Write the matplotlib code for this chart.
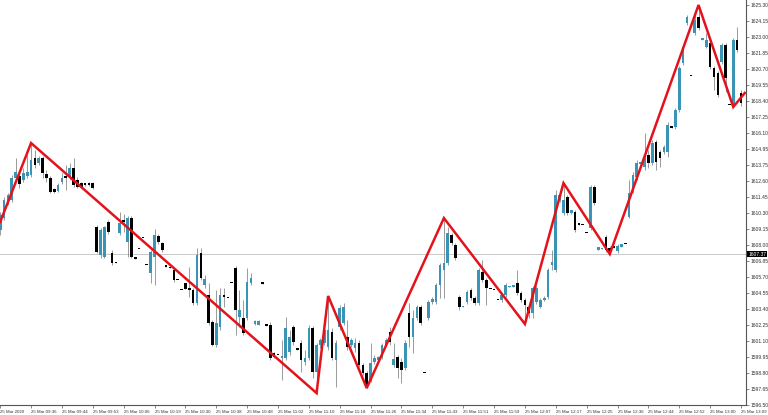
import matplotlib.pyplot as plt
import numpy as np

# === Candle data (1 min bars, 25 Mar 2020) ===
opens = [1609.10, 1609.96, 1611.12, 1611.26, 1612.84, 1612.99, 1612.70, 1612.99, 1613.06, 1614.28,
         1613.92, 1614.28, 1613.13, 1612.84, 1612.05, 1611.91, 1612.56, 1612.99, 1612.92, 1613.56,
         1612.70, 1612.48, 1612.48, 1612.48, 1612.48, 1609.32, 1607.30, 1607.16, 1609.68, 1607.44,
         1606.80, 1608.88, 1609.82, 1608.24, 1609.96, 1607.16, 1607.73, 1608.52, 1606.58, 1606.00,
         1607.16, 1608.67, 1608.16, 1606.58, 1606.44, 1606.22, 1605.50, 1604.78, 1605.28, 1604.92,
         1604.78, 1603.84, 1607.44, 1605.14, 1604.42, 1602.48, 1600.82, 1602.12, 1604.42, 1604.20,
         1605.28, 1606.36, 1602.84, 1602.76, 1602.76, 1605.28, 1602.33, 1602.26, 1605.36, 1602.30,
         1602.26, 1600.24, 1600.10, 1599.88, 1599.88, 1600.32, 1602.12, 1600.60, 1600.96, 1599.60,
         1599.88, 1602.04, 1598.88, 1600.82, 1600.96, 1600.68, 1601.76, 1599.74, 1602.12, 1602.40,
         1601.40, 1600.82, 1600.60, 1600.96, 1599.38, 1598.80, 1598.30, 1599.60, 1599.74, 1599.96,
         1600.82, 1601.76, 1599.38, 1599.96, 1599.60, 1599.16, 1603.12, 1601.40, 1602.76, 1603.56,
         1598.80, 1602.76, 1603.92, 1603.92, 1605.14, 1606.22, 1606.72, 1608.74, 1608.02, 1604.28,
         1603.56, 1603.92, 1604.78, 1604.20, 1603.84, 1606.08, 1605.50, 1604.85, 1604.78, 1604.06,
         1604.06, 1604.42, 1605.00, 1605.00, 1605.28, 1604.56, 1604.06, 1603.56, 1603.12, 1603.92,
         1603.56, 1604.06, 1604.28, 1606.58, 1606.22, 1611.26, 1610.32, 1611.48, 1610.32, 1610.40,
         1609.60, 1609.46, 1608.88, 1609.24, 1612.20, 1607.66, 1607.73, 1608.60, 1607.80, 1607.95,
         1607.59, 1607.88, 1608.09, 1610.04, 1612.12, 1612.92, 1613.85, 1613.64, 1614.50, 1613.92,
         1615.44, 1614.72, 1614.72, 1614.72, 1616.59, 1616.52, 1617.74, 1621.12, 1624.00, 1620.19,
         1623.28, 1624.44, 1622.78, 1622.28, 1622.56, 1620.76, 1620.40, 1621.20, 1622.42, 1618.10,
         1618.10, 1622.78, 1618.96]
highs = [1610.40, 1611.48, 1611.76, 1613.06, 1614.28, 1613.28, 1613.56, 1614.50, 1615.36, 1614.86,
         1614.43, 1614.43, 1613.42, 1612.99, 1612.12, 1612.48, 1613.20, 1613.78, 1613.92, 1614.28,
         1612.92, 1612.56, 1612.48, 1612.56, 1612.56, 1609.46, 1609.24, 1609.39, 1609.82, 1607.66,
         1606.80, 1610.40, 1610.25, 1610.11, 1610.11, 1607.16, 1607.73, 1608.52, 1606.58, 1607.66,
         1609.17, 1608.81, 1608.24, 1606.58, 1606.44, 1606.36, 1605.50, 1604.78, 1605.28, 1606.44,
         1604.92, 1607.80, 1607.80, 1605.86, 1605.28, 1602.62, 1604.78, 1604.92, 1604.92, 1604.20,
         1605.28, 1606.51, 1604.78, 1604.06, 1606.36, 1606.00, 1602.62, 1602.62, 1605.36, 1602.30,
         1602.48, 1600.32, 1600.10, 1601.18, 1602.84, 1601.90, 1602.26, 1600.60, 1601.18, 1600.46,
         1602.26, 1602.19, 1600.96, 1601.32, 1602.04, 1604.35, 1602.04, 1601.18, 1603.70, 1603.84,
         1602.62, 1601.32, 1601.32, 1601.18, 1599.52, 1598.95, 1600.96, 1600.10, 1600.03, 1600.96,
         1601.32, 1602.12, 1600.96, 1600.10, 1599.88, 1601.18, 1603.84, 1603.34, 1603.70, 1603.70,
         1598.80, 1604.06, 1604.28, 1605.28, 1606.72, 1609.96, 1609.32, 1608.88, 1608.16, 1604.42,
         1603.63, 1604.78, 1604.92, 1604.35, 1606.36, 1606.94, 1605.64, 1604.85, 1604.78, 1604.06,
         1604.56, 1605.28, 1605.07, 1605.14, 1606.22, 1604.71, 1604.20, 1603.70, 1605.07, 1605.07,
         1604.20, 1604.35, 1606.36, 1607.66, 1611.98, 1611.62, 1612.48, 1611.62, 1610.54, 1610.54,
         1609.60, 1609.46, 1608.88, 1612.34, 1612.34, 1607.88, 1607.80, 1608.74, 1607.95, 1607.95,
         1608.09, 1608.09, 1608.09, 1612.70, 1613.28, 1614.14, 1614.00, 1616.08, 1614.86, 1615.58,
         1615.58, 1614.86, 1615.22, 1616.88, 1616.59, 1617.88, 1620.91, 1622.42, 1624.58, 1620.19,
         1624.58, 1625.30, 1622.92, 1623.28, 1622.71, 1620.91, 1620.55, 1622.56, 1622.56, 1618.10,
         1622.92, 1623.72, 1619.18]
lows = [1608.74, 1609.82, 1610.90, 1611.12, 1612.70, 1612.12, 1612.56, 1612.84, 1612.92, 1613.56,
        1613.78, 1612.84, 1612.56, 1611.76, 1611.76, 1611.84, 1612.41, 1611.98, 1612.70, 1612.20,
        1612.12, 1612.12, 1612.27, 1612.27, 1612.05, 1607.44, 1607.08, 1607.08, 1608.81, 1606.58,
        1606.72, 1608.74, 1608.96, 1607.16, 1607.08, 1607.01, 1607.73, 1608.52, 1606.58, 1605.28,
        1605.14, 1608.09, 1607.52, 1606.44, 1606.36, 1605.36, 1605.50, 1604.78, 1604.85, 1604.28,
        1603.70, 1603.70, 1605.50, 1604.92, 1602.26, 1600.75, 1600.68, 1601.90, 1603.56, 1604.20,
        1605.28, 1601.54, 1602.12, 1601.54, 1602.62, 1605.14, 1602.26, 1602.26, 1605.21, 1602.20,
        1599.74, 1599.88, 1600.10, 1598.30, 1599.74, 1600.10, 1600.82, 1600.46, 1598.88, 1599.38,
        1599.74, 1598.44, 1597.36, 1600.60, 1600.82, 1600.46, 1599.74, 1597.80, 1601.90, 1602.26,
        1600.46, 1600.68, 1600.32, 1599.24, 1598.66, 1597.72, 1598.16, 1599.45, 1599.74, 1599.81,
        1600.75, 1600.82, 1599.24, 1598.44, 1598.08, 1599.02, 1600.68, 1600.24, 1602.62, 1602.26,
        1598.80, 1602.62, 1603.77, 1603.77, 1604.20, 1604.20, 1606.58, 1608.02, 1606.94, 1603.34,
        1603.56, 1603.77, 1604.06, 1603.70, 1603.70, 1605.36, 1603.70, 1604.85, 1604.78, 1604.06,
        1603.92, 1604.28, 1605.00, 1605.00, 1604.42, 1603.92, 1602.33, 1602.76, 1602.76, 1603.77,
        1603.48, 1603.99, 1604.13, 1606.22, 1606.08, 1611.12, 1610.18, 1610.18, 1610.25, 1608.96,
        1609.46, 1609.46, 1608.88, 1609.10, 1610.90, 1607.66, 1607.73, 1607.52, 1607.37, 1607.80,
        1607.44, 1607.88, 1608.09, 1609.96, 1611.76, 1612.70, 1613.85, 1613.42, 1613.56, 1613.78,
        1613.42, 1613.64, 1614.57, 1614.36, 1616.44, 1616.37, 1617.60, 1620.98, 1623.86, 1620.19,
        1623.14, 1623.50, 1622.78, 1622.20, 1620.69, 1619.18, 1618.68, 1621.05, 1619.04, 1618.10,
        1617.96, 1621.92, 1618.03]
closes = [1610.18, 1611.26, 1611.62, 1612.84, 1613.28, 1612.41, 1613.20, 1613.28, 1614.14, 1613.78,
          1614.28, 1613.20, 1612.84, 1611.84, 1611.84, 1612.34, 1612.84, 1612.84, 1613.56, 1612.34,
          1612.20, 1612.20, 1612.34, 1612.34, 1612.12, 1607.52, 1609.10, 1609.32, 1608.96, 1606.72,
          1606.72, 1609.60, 1609.68, 1609.96, 1607.16, 1607.01, 1607.73, 1608.52, 1606.58, 1607.52,
          1608.74, 1608.24, 1607.66, 1606.44, 1606.36, 1605.50, 1605.50, 1604.78, 1604.85, 1604.78,
          1603.84, 1607.30, 1605.64, 1605.57, 1602.40, 1600.82, 1602.40, 1604.42, 1604.28, 1604.20,
          1605.28, 1603.34, 1603.34, 1601.68, 1605.36, 1605.64, 1602.55, 1602.55, 1605.21, 1602.20,
          1599.88, 1599.96, 1600.10, 1600.03, 1602.04, 1601.40, 1601.04, 1600.46, 1599.74, 1599.88,
          1602.04, 1598.88, 1600.82, 1601.18, 1601.90, 1601.90, 1599.88, 1600.96, 1603.48, 1603.56,
          1600.68, 1601.18, 1600.96, 1599.38, 1598.80, 1597.94, 1599.52, 1599.88, 1599.96, 1600.82,
          1601.18, 1601.04, 1599.81, 1599.16, 1599.02, 1600.96, 1601.40, 1602.76, 1603.56, 1602.40,
          1598.80, 1603.92, 1604.13, 1605.14, 1606.58, 1606.72, 1608.88, 1608.16, 1607.08, 1603.56,
          1603.63, 1604.64, 1604.20, 1603.84, 1606.22, 1605.50, 1604.92, 1604.85, 1604.78, 1604.06,
          1604.42, 1605.14, 1605.07, 1605.14, 1604.56, 1604.06, 1603.70, 1603.12, 1604.92, 1604.92,
          1604.06, 1604.20, 1606.22, 1606.80, 1611.62, 1611.62, 1611.26, 1610.32, 1610.54, 1609.10,
          1609.46, 1609.46, 1608.88, 1612.20, 1611.04, 1607.88, 1607.80, 1607.66, 1607.44, 1607.80,
          1607.95, 1608.09, 1608.09, 1611.76, 1613.06, 1613.92, 1614.00, 1614.36, 1613.92, 1615.36,
          1614.00, 1614.28, 1615.08, 1616.66, 1616.44, 1617.74, 1620.76, 1622.28, 1624.44, 1620.19,
          1624.22, 1623.64, 1622.92, 1622.78, 1620.84, 1620.12, 1618.82, 1622.42, 1620.04, 1618.10,
          1622.78, 1622.06, 1618.24]

# === ZigZag turning points (bar index, price) ===
zz_idx = [0, 8, 82, 85, 95, 115, 136, 146, 158, 181, 190, 193]
zz_price = [1609.68, 1615.36, 1597.36, 1604.35, 1597.72, 1609.96, 1602.33, 1612.48, 1607.37,
            1625.30, 1617.96, 1618.97]

# === Axis labels ===
time_labels = ["25 Mar 2020", "25 Mar 09:36", "25 Mar 09:44", "25 Mar 09:53", "25 Mar 10:06",
               "25 Mar 10:19", "25 Mar 10:30", "25 Mar 10:38", "25 Mar 10:48", "25 Mar 11:02",
               "25 Mar 11:10", "25 Mar 11:18", "25 Mar 11:26", "25 Mar 11:34", "25 Mar 11:43",
               "25 Mar 11:51", "25 Mar 11:59", "25 Mar 12:07", "25 Mar 12:17", "25 Mar 12:25",
               "25 Mar 12:36", "25 Mar 12:44", "25 Mar 12:52", "25 Mar 13:00", "25 Mar 13:09"]
price_labels = ["1625.30", "1624.15", "1623.00", "1621.85", "1620.70", "1619.55", "1618.40",
                "1617.25", "1616.10", "1614.95", "1613.75", "1612.60", "1611.45", "1610.30",
                "1609.15", "1608.00", "1606.85", "1605.70", "1604.55", "1603.40", "1602.25",
                "1601.10", "1599.95", "1598.80", "1597.65", "1596.50"]
last_price = 1607.37

BULL = "#3a94b6"
BEAR = "#000000"
WICK = "#8a8a8a"

fig = plt.figure(figsize=(7.68, 4.15), dpi=100)
ax = fig.add_axes([0.0, 10 / 415, 746 / 768, 405 / 415])

o = np.array(opens)
h = np.array(highs)
l = np.array(lows)
c = np.array(closes)
x = np.arange(len(o))

# wicks
ax.vlines(x, l, h, color=WICK, linewidth=0.6, zorder=1)

# bodies
up = c > o
body = np.abs(c - o)
body = np.where(body < 0.05, 0.05, body)
bottom = np.minimum(o, c)
ax.bar(x[up], body[up], bottom=bottom[up], width=0.68, color=BULL, linewidth=0, zorder=2)
ax.bar(x[~up], body[~up], bottom=bottom[~up], width=0.68, color=BEAR, linewidth=0, zorder=2)

# current price line
ax.axhline(last_price, color="#c0c0c0", linewidth=0.6, zorder=0)

# zigzag
ax.plot(zz_idx, zz_price, color="#e3121b", linewidth=1.8, zorder=3, solid_joinstyle="miter")

ax.set_xlim(-0.05, 193.3)
ax.set_ylim(1596.50, 1625.66)

# axes look like MT4
for s in ["left", "top"]:
    ax.spines[s].set_visible(False)
for s in ["right", "bottom"]:
    ax.spines[s].set_color("#555555")
    ax.spines[s].set_linewidth(0.8)

ax.yaxis.tick_right()
ax.set_yticks([float(v) for v in price_labels])
ax.set_yticklabels(price_labels, fontsize=3.6, family="Liberation Sans")
ax.tick_params(axis="y", length=2, width=0.5, pad=1, colors="#555555")

ax.set_xticks(np.arange(0, 8 * len(time_labels), 8))
ax.set_xticklabels(time_labels, fontsize=3.2, family="Liberation Sans", ha="left")
ax.tick_params(axis="x", length=2, width=0.5, pad=1.5, colors="#555555")
for t in ax.get_xticklabels() + ax.get_yticklabels():
    t.set_color("#333333")

# price tag on the axis
ax.text(1.003, last_price, f"{last_price:.2f}", transform=ax.get_yaxis_transform(),
        fontsize=3.6, family="Liberation Sans", color="white", va="center", ha="left",
        bbox=dict(boxstyle="square,pad=0.15", facecolor="black", edgecolor="none"), zorder=5)

plt.savefig("out.png", dpi=100)
